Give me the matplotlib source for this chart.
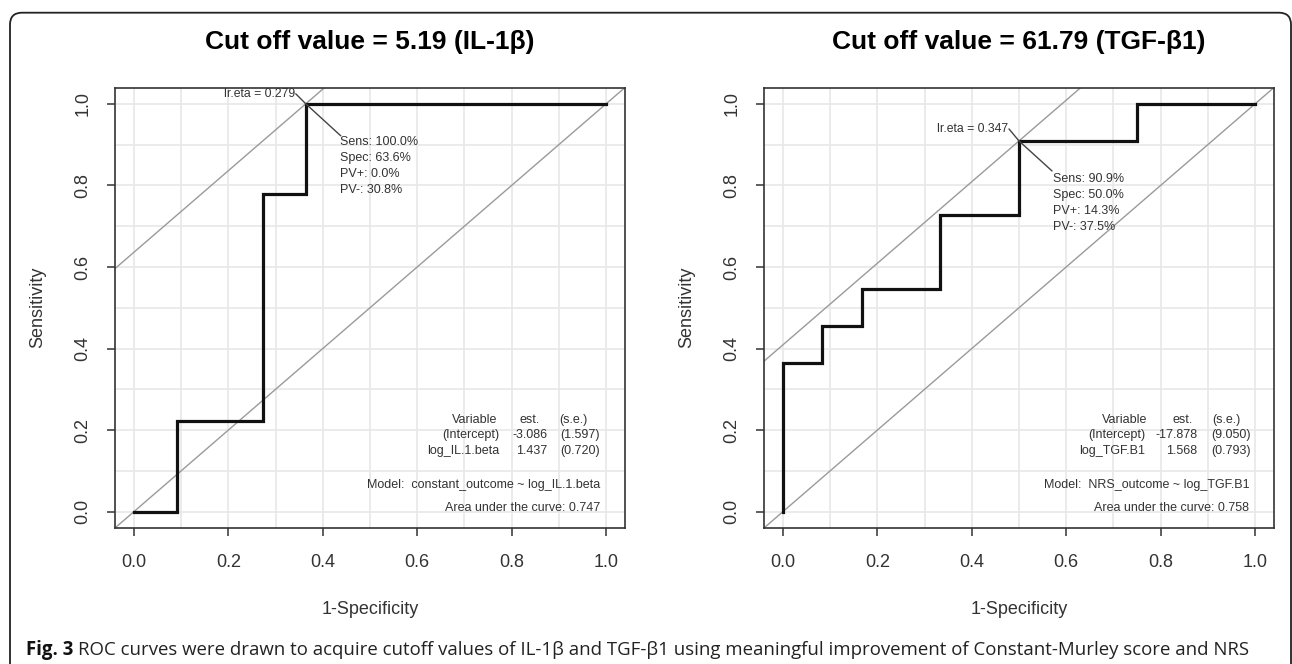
import numpy as np
import matplotlib
matplotlib.use("Agg")
import matplotlib.pyplot as plt
from matplotlib.patches import FancyBboxPatch
from matplotlib.transforms import IdentityTransform

# ---------------- data ----------------
titles = ["Cut off value = 5.19 (IL-1\u03b2)", "Cut off value = 61.79 (TGF-\u03b21)"]

il_fpr = [0.0, 0.091, 0.273, 0.364, 1.0]
il_tpr = [0.0, 0.222, 0.778, 1.0, 1.0]

tgf_fpr = [0.0, 0.0, 0.083, 0.167, 0.333, 0.5, 0.75, 1.0]
tgf_tpr = [0.0, 0.364, 0.455, 0.545, 0.727, 0.909, 1.0, 1.0]

cut_fpr = [0.364, 0.5]
cut_sens = [1.0, 0.909]
lr_eta = ["lr.eta = 0.279", "lr.eta = 0.347"]
stats_text = [["Sens: 100.0%", "Spec: 63.6%", "PV+: 0.0%", "PV-: 30.8%"],
              ["Sens: 90.9%", "Spec: 50.0%", "PV+: 14.3%", "PV-: 37.5%"]]

table_header = ["Variable", "est.", "(s.e.)"]
table_vars = [["(Intercept)", "log_IL.1.beta"], ["(Intercept)", "log_TGF.B1"]]
table_est = [["-3.086", "1.437"], ["-17.878", "1.568"]]
table_se = [["(1.597)", "(0.720)"], ["(9.050)", "(0.793)"]]
models = ["Model:  constant_outcome ~ log_IL.1.beta", "Model:  NRS_outcome ~ log_TGF.B1"]
aucs = ["Area under the curve: 0.747", "Area under the curve: 0.758"]

xticks = [0.0, 0.2, 0.4, 0.6, 0.8, 1.0]
xtick_labels = ["0.0", "0.2", "0.4", "0.6", "0.8", "1.0"]

caption_bold = "Fig. 3"
caption_rest = ("ROC curves were drawn to acquire cutoff values of IL-1\u03b2 and TGF-\u03b21 "
                "using meaningful improvement of Constant-Murley score and NRS")

# ---------------- layout ----------------
W, H = 1292, 664
fig = plt.figure(figsize=(W / 100, H / 100), dpi=100)
fig.patch.set_facecolor("white")

FONT = ["Liberation Sans", "DejaVu Sans"]
dark = "#333333"

axes_px = [(115, 625), (764, 1274)]
top_px, bot_px = 87.5, 528

# per-panel table placement (data coords)
tab_pos = [
    dict(hx=[0.721, 0.838, 0.931], vx=0.775, ex=0.876, sx=0.987, mx=0.987),
    dict(hx=[0.723, 0.846, 0.940], vx=0.768, ex=0.878, sx=0.990, mx=0.988),
]
row_y = [0.224, 0.187, 0.150]
model_y = 0.066
auc_y = 0.008

fprs = [il_fpr, tgf_fpr]
tprs = [il_tpr, tgf_tpr]

for i in range(2):
    l, r = axes_px[i]
    ax = fig.add_axes([l / W, (H - bot_px) / H, (r - l) / W, (bot_px - top_px) / H])
    ax.set_xlim(-0.04, 1.04)
    ax.set_ylim(-0.04, 1.04)

    # grid
    ax.set_xticks(np.arange(0, 1.01, 0.1), minor=True)
    ax.set_yticks(np.arange(0, 1.01, 0.1), minor=True)
    ax.grid(True, which="both", color="#e8e8e8", linewidth=1.2, zorder=0)
    ax.set_axisbelow(True)

    ax.set_xticks(xticks)
    ax.set_xticklabels(xtick_labels, fontfamily=FONT, fontsize=13, color=dark)
    ax.set_yticks(xticks)
    ax.set_yticklabels(xtick_labels, fontfamily=FONT, fontsize=13, color=dark)
    ax.tick_params(axis="both", which="major", direction="out", length=6,
                   width=1.1, color=dark)
    ax.tick_params(axis="x", which="major", pad=13)
    ax.tick_params(axis="y", which="major", pad=11, labelrotation=90)
    for lab in ax.get_yticklabels():
        lab.set_va("center")
    ax.tick_params(which="minor", length=0)
    for sp in ax.spines.values():
        sp.set_color(dark)
        sp.set_linewidth(1.2)

    # reference lines
    ax.axline((0, 0), slope=1, color="#9a9a9a", linewidth=1.0, zorder=2)
    ax.axline((cut_fpr[i], cut_sens[i]), slope=1, color="#9a9a9a", linewidth=1.0, zorder=2)

    # ROC curve
    ax.plot(fprs[i], tprs[i], drawstyle="steps-post", color="#111111",
            linewidth=2.3, zorder=3, solid_joinstyle="miter")

    # annotation around the cut point
    pt = (cut_fpr[i], cut_sens[i])
    up_off = (-10, 10) if i == 0 else (-10, 12)
    ax.annotate("", xy=pt, xytext=up_off, textcoords="offset pixels",
                arrowprops=dict(arrowstyle="-", color="#444444", lw=1.0,
                                shrinkA=0, shrinkB=0), annotation_clip=False)
    ax.annotate(lr_eta[i], xy=pt, xytext=(up_off[0] - 1, up_off[1]),
                textcoords="offset pixels", ha="right", va="center",
                fontfamily=FONT, fontsize=8.8, color=dark, annotation_clip=False)
    lo_off = (35, -32) if i == 0 else (33, -30)
    ax.annotate("", xy=pt, xytext=lo_off, textcoords="offset pixels",
                arrowprops=dict(arrowstyle="-", color="#444444", lw=1.0,
                                shrinkA=0, shrinkB=0))
    for k, s in enumerate(stats_text[i]):
        ax.annotate(s, xy=pt, xytext=(34, -38 - 16 * k), textcoords="offset pixels",
                    ha="left", va="center", fontfamily=FONT, fontsize=9, color=dark)

    # table
    tp = tab_pos[i]
    for j, h in enumerate(table_header):
        ax.text(tp["hx"][j], row_y[0], h, ha="center", va="center",
                fontfamily=FONT, fontsize=9, color=dark)
    for k in range(2):
        ax.text(tp["vx"], row_y[k + 1], table_vars[i][k], ha="right", va="center",
                fontfamily=FONT, fontsize=9, color=dark)
        ax.text(tp["ex"], row_y[k + 1], table_est[i][k], ha="right", va="center",
                fontfamily=FONT, fontsize=9, color=dark)
        ax.text(tp["sx"], row_y[k + 1], table_se[i][k], ha="right", va="center",
                fontfamily=FONT, fontsize=9, color=dark)
    ax.text(tp["mx"], model_y, models[i], ha="right", va="center",
            fontfamily=FONT, fontsize=9, color=dark)
    ax.text(tp["mx"], auc_y, aucs[i], ha="right", va="center",
            fontfamily=FONT, fontsize=9, color=dark)

    # labels & title
    ax.set_xlabel("1-Specificity", fontfamily=FONT, fontsize=13, color=dark)
    ax.set_ylabel("Sensitivity", fontfamily=FONT, fontsize=13, color=dark)
    ax.xaxis.set_label_coords(0.5, (bot_px - 609) / (bot_px - top_px))
    ax.yaxis.set_label_coords(-77 / (r - l), 0.5)
    ax.xaxis.label.set_va("center")
    ax.yaxis.label.set_va("center")
    ax.text(0.5, (bot_px - 42) / (bot_px - top_px), titles[i], transform=ax.transAxes,
            ha="center", va="center", fontfamily=FONT, fontsize=19,
            fontweight="bold", color="black")

# frame with rounded corners
frame = FancyBboxPatch((10, -40), 1281, H - 12.7 + 40,
                       boxstyle="round,pad=0,rounding_size=12",
                       transform=IdentityTransform(), facecolor="none",
                       edgecolor="#222222", linewidth=1.3)
fig.add_artist(frame)

# caption
CAP = ["Open Sans", "DejaVu Sans"]
t1 = fig.text(26 / W, (H - 655) / H, caption_bold, ha="left", va="baseline",
              fontfamily=CAP, fontsize=13.4, fontweight="bold", color="#111111")
fig.canvas.draw()
bb = t1.get_window_extent(fig.canvas.get_renderer())
fig.text((bb.x1 + 5) / W, (H - 655) / H, caption_rest, ha="left", va="baseline",
         fontfamily=CAP, fontsize=13.4, color="#222222")

fig.savefig("out.png", dpi=100, facecolor="white")
